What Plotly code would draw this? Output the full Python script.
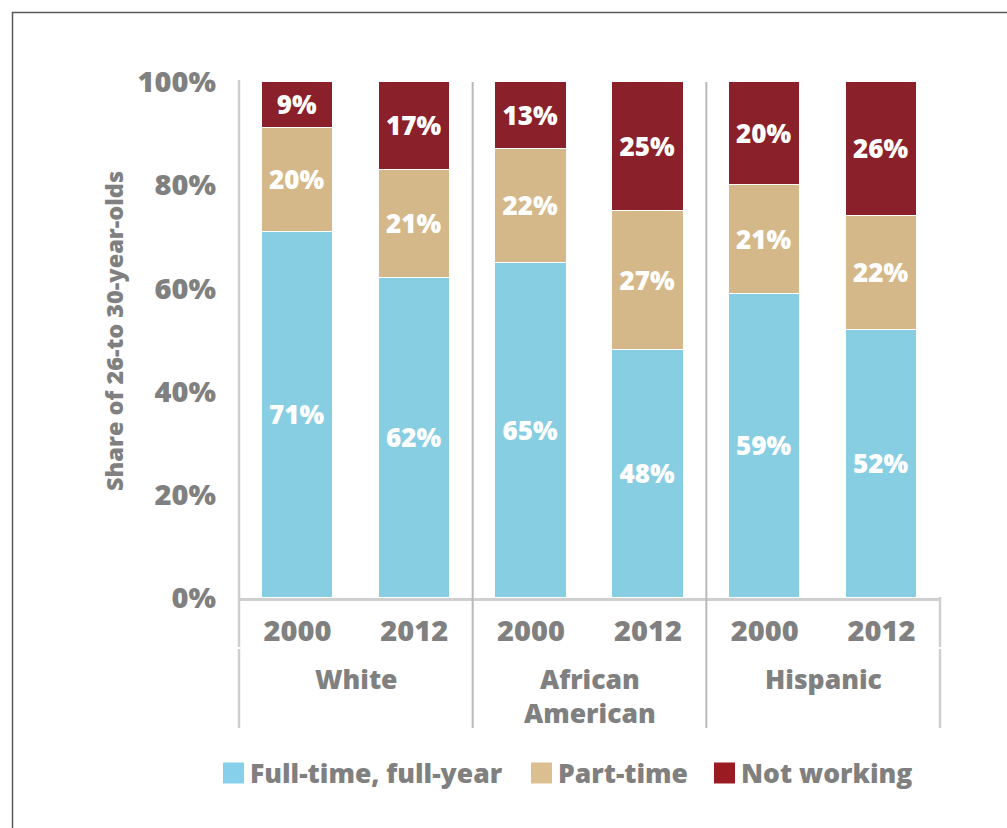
import plotly.graph_objects as go

# ---- data -------------------------------------------------------------
groups = ["White", "African<br>American", "Hispanic"]
years = ["2000", "2012"]
full_time = [71, 62, 65, 48, 59, 52]
part_time = [20, 21, 22, 27, 21, 22]
not_working = [9, 17, 13, 25, 20, 26]
series_names = ["Full-time, full-year", "Part-time", "Not working"]
y_ticks = [0, 20, 40, 60, 80, 100]
y_title = "Share of 26-to 30-year-olds"

# ---- styling ----------------------------------------------------------
bar_colors = ["#88CEE3", "#D4B88A", "#8A2029"]
legend_colors = ["#86D0EC", "#DBBF90", "#9A1C22"]
gray_text = "#808080"
FONT = "Open Sans"
WEIGHT = 800

W, H = 1007, 828
L, R, T, B = 239, 67, 82, 230
plot_w, plot_h = W - L - R, H - T - B


def px_x(p):
    return (p - L) / plot_w


def px_y(p):
    return (H - B - p) / plot_h


def fnt(size, color=gray_text):
    return dict(family=FONT, size=size, color=color, weight=WEIGHT)


n = len(full_time)
slots = list(range(n))
ticktext = [yr for _ in groups for yr in years]

fig = go.Figure()
for name, vals, col in zip(series_names, [full_time, part_time, not_working], bar_colors):
    fig.add_trace(go.Bar(
        x=slots, y=vals, name=name,
        marker=dict(color=col, line=dict(color="white", width=1.5)),
        width=0.61,
        text=[f"{v}%" for v in vals],
        textposition="inside",
        insidetextanchor="middle",
        textangle=0,
        constraintext="none",
        textfont=fnt(26, "white"),
        showlegend=False,
        hoverinfo="skip",
    ))

shapes = []
line_light = dict(color="#cfcfcf", width=2.5)
line_mid = dict(color="#b9b9b9", width=2)
n_per = len(years)
bounds = [k * n_per / n for k in range(len(groups) + 1)]
for i, b in enumerate(bounds):
    if i == 0:
        shapes.append(dict(type="line", xref="paper", yref="paper", x0=b, x1=b,
                           y0=px_y(80), y1=px_y(647), line=line_light))
        shapes.append(dict(type="line", xref="paper", yref="paper", x0=b, x1=b,
                           y0=px_y(649), y1=px_y(728), line=line_light))
    elif i == len(bounds) - 1:
        shapes.append(dict(type="line", xref="paper", yref="paper", x0=b, x1=b,
                           y0=px_y(597), y1=px_y(647), line=line_light))
        shapes.append(dict(type="line", xref="paper", yref="paper", x0=b, x1=b,
                           y0=px_y(649), y1=px_y(728), line=line_light))
    else:
        shapes.append(dict(type="line", xref="paper", yref="paper", x0=b, x1=b,
                           y0=px_y(82), y1=px_y(728), line=line_mid))

# outer frame
shapes.append(dict(type="rect", xref="paper", yref="paper",
                   x0=px_x(12.5), x1=px_x(1030), y0=px_y(12.5), y1=px_y(850),
                   line=dict(color="#5a5a5a", width=1.5), layer="below"))

annotations = []
# group labels
for g_i, g in enumerate(groups):
    cx = (g_i * n_per + (n_per - 1) / 2)
    annotations.append(dict(
        x=cx, xref="x", y=px_y(659), yref="paper", yanchor="top", xanchor="center",
        text=g, showarrow=False, font=fnt(26.5),
    ))

# y-axis title
annotations.append(dict(
    x=px_x(114), xref="paper", y=px_y(331), yref="paper",
    text=y_title, textangle=-90, showarrow=False,
    xanchor="center", yanchor="middle", font=fnt(23.5),
))

# legend (squares + labels)
legend_left = [223, 531, 714]
sq = 21
legend_cy = 773
for name, col, lx in zip(series_names, legend_colors, legend_left):
    shapes.append(dict(type="rect", xref="paper", yref="paper",
                       x0=px_x(lx), x1=px_x(lx + sq),
                       y0=px_y(legend_cy - sq / 2), y1=px_y(legend_cy + sq / 2),
                       fillcolor=col, line=dict(width=0)))
    annotations.append(dict(
        x=px_x(lx + sq + 4), xref="paper", y=px_y(legend_cy), yref="paper",
        xanchor="left", yanchor="middle", text=name, showarrow=False,
        font=fnt(26.5),
    ))

fig.update_layout(
    barmode="stack",
    width=W, height=H,
    margin=dict(l=L, r=R, t=T, b=B),
    paper_bgcolor="white", plot_bgcolor="white",
    bargap=0,
    shapes=shapes,
    annotations=annotations,
    xaxis=dict(
        range=[-0.5, n - 0.5],
        tickvals=slots, ticktext=ticktext,
        showgrid=False, zeroline=False,
        showline=True, linecolor="#cfcfcf", linewidth=2.5,
        ticks="", ticklabelstandoff=5,
        tickfont=fnt(29),
        fixedrange=True,
    ),
    yaxis=dict(
        range=[0, 100],
        tickvals=y_ticks, ticktext=[f"{v}%" for v in y_ticks],
        showgrid=False, zeroline=False, showline=False,
        ticks="", ticklabelstandoff=22,
        tickfont=fnt(29),
        fixedrange=True,
    ),
)

fig.write_html("out.html")
